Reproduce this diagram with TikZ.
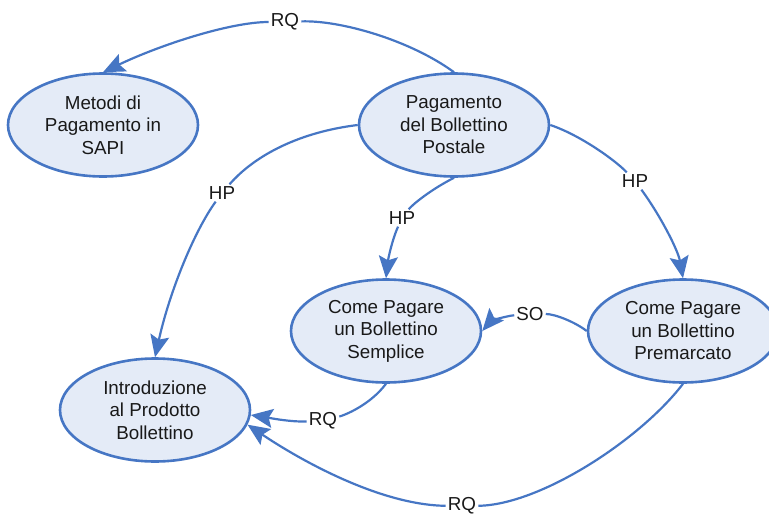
\documentclass[tikz,border=0pt]{standalone}
\usepackage{fontspec}
\setmainfont{Liberation Sans}
\usetikzlibrary{shapes.geometric,arrows.meta}
\definecolor{edgeblue}{RGB}{70,118,196}
\definecolor{nodefill}{RGB}{228,235,247}
\definecolor{inkblack}{RGB}{25,25,25}
\begin{document}
\begin{tikzpicture}[x=1pt,y=-1pt,
  concept/.style={ellipse, draw=edgeblue, fill=nodefill, line width=2.6pt,
    minimum width=190pt, minimum height=103pt, inner sep=0pt, align=center,
    text=inkblack, font=\fontsize{18.8}{22.5}\selectfont},
  lbl/.style={inner sep=2pt, text=inkblack, font=\fontsize{18.8}{22.5}\selectfont},
  link/.style={draw=edgeblue, line width=2.2pt},
  arr/.style={link, -{Stealth[length=22pt,width=19pt,inset=4pt]}}]
\useasboundingbox (0,0) rectangle (769,514);

% concepts
\node[concept] (met)   at (103,125) {Metodi di\\Pagamento in\\SAPI};
\node[concept] (pag)   at (454,125) {Pagamento\\del Bollettino\\Postale};
\node[concept] (sem)   at (386,331) {Come Pagare\\un Bollettino\\Semplice};
\node[concept] (pre)   at (683,331) {Come Pagare\\un Bollettino\\Premarcato};
\node[concept] (intro) at (155,410) {Introduzione\\al Prodotto\\Bollettino};

% link labels
\node[lbl] (rqa) at (285,22)  {RQ};
\node[lbl] (hpa) at (222,193) {HP};
\node[lbl] (hpb) at (402,218) {HP};
\node[lbl] (hpc) at (635,181) {HP};
\node[lbl] (so)  at (530,314) {SO};
\node[lbl] (rqb) at (323,421) {RQ};
\node[lbl] (rqc) at (462,506) {RQ};

% Pagamento -> Metodi
\draw[link] (pag.north) .. controls (410,40) and (340,20) .. (rqa);
\draw[arr]  (rqa) .. controls (230,22) and (160,45) .. (met.north);

% Pagamento -> Introduzione
\draw[link] (pag.west) .. controls (300,132) and (255,155) .. (hpa);
\draw[arr]  (hpa) .. controls (195,230) and (170,290) .. (intro.north);

% Pagamento -> Semplice
\draw[link] (pag.south) .. controls (430,190) and (412,205) .. (hpb);
\draw[arr]  (hpb) .. controls (392,240) and (388,260) .. (sem.north);

% Pagamento -> Premarcato
\draw[link] (pag.east) .. controls (580,135) and (615,160) .. (hpc);
\draw[arr]  (hpc) .. controls (660,215) and (678,250) .. (pre.north);

% Premarcato -> Semplice
\draw[link] (pre.west) .. controls (575,322) and (555,314) .. (so);
\draw[arr]  (so) .. controls (505,316) and (490,322) .. (sem.east);

% Semplice -> Introduzione
\draw[link] (sem.south) .. controls (370,405) and (345,415) .. (rqb);
\draw[arr]  (rqb) .. controls (290,422) and (270,418) .. (intro.-3);

% Premarcato -> Introduzione
\draw[link] (pre.south) .. controls (640,440) and (540,505) .. (rqc);
\draw[arr]  (rqc) .. controls (380,505) and (300,460) .. (intro.-9);
\end{tikzpicture}
\end{document}
